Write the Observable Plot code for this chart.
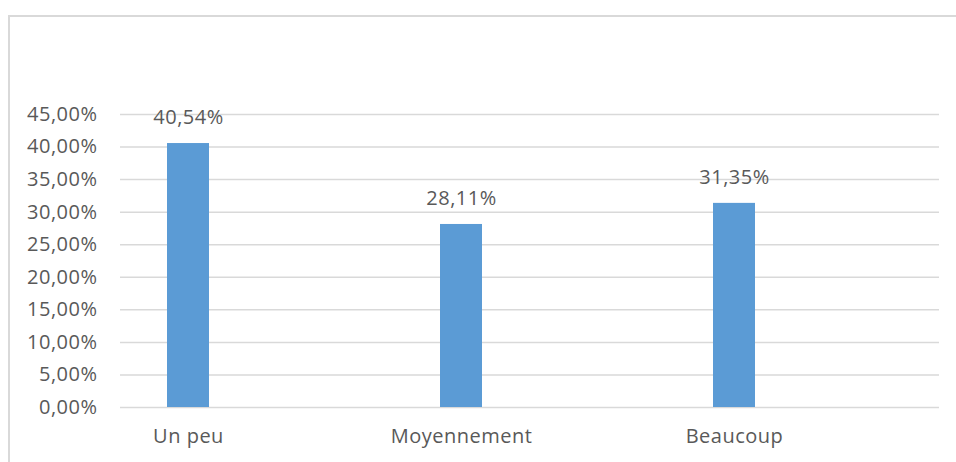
<!DOCTYPE html>
<html>
<head>
<meta charset="utf-8">
<script src="https://cdn.jsdelivr.net/npm/d3@7"></script>
<script src="https://cdn.jsdelivr.net/npm/@observablehq/plot@0.6"></script>
<style>
  html, body { margin: 0; padding: 0; background: #fff; }
  #wrap { position: relative; width: 956px; height: 462px; overflow: hidden; }
  #frame { position: absolute; left: 8px; top: 15px; width: 1000px; height: 500px;
           border-top: 2px solid #d9d9d9; border-left: 2px solid #d9d9d9; box-sizing: border-box; }
  #chart { position: absolute; left: 0; top: 0; }
  #chart svg text { letter-spacing: 0.5px; }
</style>
</head>
<body>
<div id="wrap"><div id="frame"></div><div id="chart"></div></div>
<script>
const categories = ["Un peu", "Moyennement", "Beaucoup"];
const values = [40.54, 28.11, 31.35];
const yTicks = [0, 5, 10, 15, 20, 25, 30, 35, 40, 45];

const data = categories.map((c, i) => ({category: c, value: values[i]}));
const fmt = v => v.toFixed(2).replace(".", ",") + "%";
const textColor = "#595959";
const font = "'Open Sans', sans-serif";

const chart = Plot.plot({
  width: 956,
  height: 462,
  marginLeft: 120,
  marginRight: 17,
  marginTop: 114,
  marginBottom: 55,
  style: {fontFamily: font, fontSize: "20px", color: textColor, background: "transparent"},
  x: {domain: categories, paddingInner: 0.846, paddingOuter: 0.423, align: 0.2035, label: null},
  y: {domain: [0, 45], label: null},
  marks: [
    Plot.ruleY(yTicks, {stroke: "#d9d9d9", strokeWidth: 1.5}),
    Plot.axisY(yTicks, {tickSize: 0, tickPadding: 23, tickFormat: fmt, fill: textColor, fontSize: 20, label: null}),
    Plot.axisX({tickSize: 0, tickPadding: 21, fill: textColor, fontSize: 20, label: null}),
    Plot.barY(data, {x: "category", y: "value", fill: "#5b9bd5"}),
    Plot.text(data, {x: "category", y: "value", text: d => fmt(d.value), dy: -26, fill: textColor, fontSize: 20})
  ]
});
document.getElementById("chart").appendChild(chart);
</script>
</body>
</html>
